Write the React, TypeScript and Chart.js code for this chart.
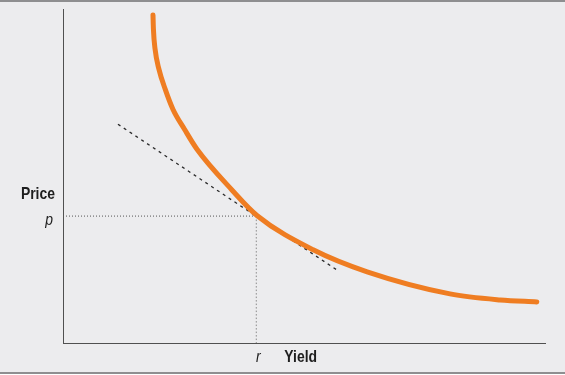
import React, { useEffect, useRef } from "react";
import { Chart, registerables } from "chart.js";

Chart.register(...registerables);

// Price–yield curve (yield on x, price on y)
const curveYield = [1.867, 1.876, 1.91, 1.99, 2.12, 2.28, 2.52, 2.78, 3.5, 4.03, 5.19, 6.31, 8.03, 9.07, 9.83];
const curvePrice = [9.82, 9.4, 8.8, 8.2, 7.6, 7.0, 6.4, 5.8, 4.59, 3.81, 2.79, 2.13, 1.47, 1.29, 1.23];

// Tangent line at (r, p)
const tangentYield = [1.14, 5.71];
const tangentPrice = [6.55, 2.16];

// Reference point
const rValue = 4.01;
const pValue = 3.8;

// Labels
const xTitle = "Yield";
const yTitle = "Price";
const xTickLabel = "r";
const yTickLabel = "p";

const FONT = '"Liberation Sans", Arial, sans-serif';
const NARROW = 0.82;

const zip = (xs: number[], ys: number[]) => xs.map((x, i) => ({ x, y: ys[i] }));

function narrowText(ctx: CanvasRenderingContext2D, text: string, x: number, y: number, font: string, align: CanvasTextAlign) {
  ctx.save();
  ctx.font = font;
  ctx.textAlign = align;
  ctx.textBaseline = "alphabetic";
  ctx.translate(x, y);
  ctx.scale(NARROW, 1);
  ctx.fillText(text, 0, 0);
  ctx.restore();
}

const framePlugin = {
  id: "frame",
  beforeDraw(chart: any) {
    const { ctx, width } = chart;
    ctx.save();
    ctx.fillStyle = "#ececee";
    ctx.fillRect(0, 0, width, 375);
    ctx.fillStyle = "#8e8e90";
    ctx.fillRect(0, 0, width, 2);
    ctx.fillRect(0, 372, width, 2);
    ctx.fillStyle = "#ffffff";
    ctx.fillRect(0, 374, width, 1);
    ctx.restore();
  },
  afterDraw(chart: any) {
    const { ctx } = chart;
    const xs = chart.scales.x;
    const ys = chart.scales.y;
    const px = xs.getPixelForValue(rValue);
    const py = ys.getPixelForValue(pValue);
    ctx.save();
    ctx.fillStyle = "#1e1e1e";
    narrowText(ctx, yTitle, 55, py - 17, `bold 17px ${FONT}`, "right");
    narrowText(ctx, yTickLabel, 53, py + 9, `italic 17px ${FONT}`, "right");
    narrowText(ctx, xTickLabel, px + 2, 362, `italic 17px ${FONT}`, "center");
    narrowText(ctx, xTitle, px + 28, 362, `bold 17px ${FONT}`, "left");
    ctx.restore();
  },
};

export default function App() {
  const ref = useRef<HTMLCanvasElement | null>(null);

  useEffect(() => {
    if (!ref.current) return;
    const chart = new Chart(ref.current, {
      type: "line",
      data: {
        datasets: [
          {
            data: zip(curveYield, curvePrice),
            borderColor: "#ef7d22",
            borderWidth: 5,
            borderCapStyle: "round",
            borderJoinStyle: "round",
            pointRadius: 0,
            cubicInterpolationMode: "monotone",
            fill: false,
          },
          {
            data: zip(tangentYield, tangentPrice),
            borderColor: "#2a2a2a",
            borderWidth: 1.3,
            borderDash: [3, 4],
            pointRadius: 0,
            fill: false,
          },
          {
            data: [
              { x: 0, y: pValue },
              { x: rValue, y: pValue },
            ],
            borderColor: "#555555",
            borderWidth: 1,
            borderDash: [1, 2],
            pointRadius: 0,
            fill: false,
          },
          {
            data: [
              { x: rValue, y: pValue },
              { x: rValue, y: 0 },
            ],
            borderColor: "#8a8a8a",
            borderWidth: 1,
            borderDash: [1.5, 2],
            pointRadius: 0,
            fill: false,
          },
        ],
      },
      options: {
        animation: false,
        responsive: false,
        devicePixelRatio: 1,
        layout: { padding: { left: 63, right: 20, top: 9, bottom: 32 } },
        plugins: { legend: { display: false }, tooltip: { enabled: false } },
        scales: {
          x: {
            type: "linear",
            min: 0,
            max: 10,
            grid: { display: false, drawTicks: false },
            ticks: { display: false },
            border: { display: true, color: "#505050", width: 1 },
          },
          y: {
            type: "linear",
            min: 0,
            max: 10,
            grid: { display: false, drawTicks: false },
            ticks: { display: false },
            border: { display: true, color: "#505050", width: 1 },
          },
        },
      },
      plugins: [framePlugin],
    } as any);
    return () => chart.destroy();
  }, []);

  return (
    <div style={{ position: "fixed", left: 0, top: 0, width: 565, height: 375 }}>
      <canvas ref={ref} width={565} height={375} style={{ width: 565, height: 375, display: "block" }} />
    </div>
  );
}
